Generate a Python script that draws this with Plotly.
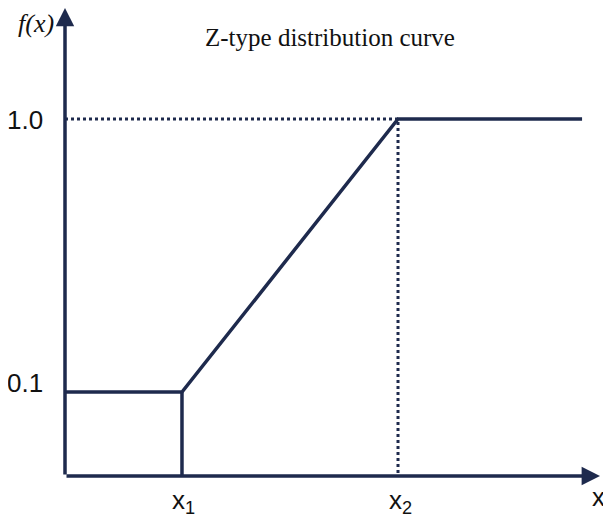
"""Z-type distribution curve (schematic membership function) in Plotly."""

import plotly.graph_objects as go

NAVY = "#1e2a4d"
LW = 3.5

# schematic positions along the axes (axis units, not to scale with labels)
x_breaks = [0.0, 3.0, 8.54, 13.26]      # origin, x1, x2, end of curve
x_tick_labels = ["x<sub>1</sub>", "x<sub>2</sub>"]
y_levels = [0.235, 1.0]                 # lower plateau, upper plateau
y_tick_labels = ["0.1", "1.0"]
x_axis_max = 13.72
y_axis_max = 1.311

x0, x1, x2, x_end = x_breaks
y_low, y_high = y_levels

fig = go.Figure()

# main curve: low plateau -> ramp -> high plateau
fig.add_trace(go.Scatter(
    x=[x0, x1, x2, x_end], y=[y_low, y_low, y_high, y_high],
    mode="lines", line=dict(color=NAVY, width=LW), hoverinfo="skip",
))
# solid drop at x1
fig.add_trace(go.Scatter(
    x=[x1, x1], y=[y_low, 0], mode="lines",
    line=dict(color=NAVY, width=LW), hoverinfo="skip",
))
# dotted guides to x2 / 1.0
fig.add_trace(go.Scatter(
    x=[x0, x2, x2], y=[y_high, y_high, 0], mode="lines",
    line=dict(color=NAVY, width=3, dash="dot"), hoverinfo="skip",
))

annotations = []
# axes with arrow heads
for tip in [(x_axis_max, 0), (0, y_axis_max)]:
    annotations.append(dict(
        x=tip[0], y=tip[1], ax=0, ay=0, xref="x", yref="y", axref="x", ayref="y",
        text="", showarrow=True, arrowhead=2, arrowsize=1.05, arrowwidth=LW,
        arrowcolor=NAVY, standoff=0,
    ))

label_font = dict(family="Liberation Sans, Arial", size=26, color="#111111")
serif_font = dict(family="Liberation Serif, Times New Roman", size=26, color="#111111")

for xv, lab in zip([x1, x2], x_tick_labels):
    annotations.append(dict(x=xv, y=0, xref="x", yref="y", text=lab, showarrow=False,
                            yanchor="middle", xshift=2, yshift=-25, font=label_font))
for yv, lab, dy in zip(y_levels, y_tick_labels, [9, -1]):
    annotations.append(dict(x=0, y=yv, xref="x", yref="y", text=lab, showarrow=False,
                            xanchor="right", xshift=-20, yshift=dy, font=label_font))
annotations.append(dict(x=x_axis_max, y=0, xref="x", yref="y", text="x", showarrow=False,
                        yanchor="middle", xshift=-2, yshift=-21, font=label_font))
annotations.append(dict(x=0, y=y_axis_max, xref="x", yref="y", text="<i>f(x)</i>",
                        showarrow=False, xanchor="right", yanchor="middle",
                        xshift=-9, yshift=-15, font=serif_font))
annotations.append(dict(x=0.5, y=y_axis_max, xref="paper", yref="y",
                        text="Z-type distribution curve", showarrow=False,
                        yanchor="middle", xshift=-3, yshift=-29,
                        font=dict(serif_font, size=25)))

fig.update_layout(
    width=603, height=515,
    margin=dict(l=57, r=11, t=0, b=47),
    plot_bgcolor="white", paper_bgcolor="white",
    showlegend=False,
    xaxis=dict(range=[0, x_axis_max], visible=False, fixedrange=True),
    yaxis=dict(range=[0, y_axis_max], visible=False, fixedrange=True),
    annotations=annotations,
)

fig.write_html("out.html")
